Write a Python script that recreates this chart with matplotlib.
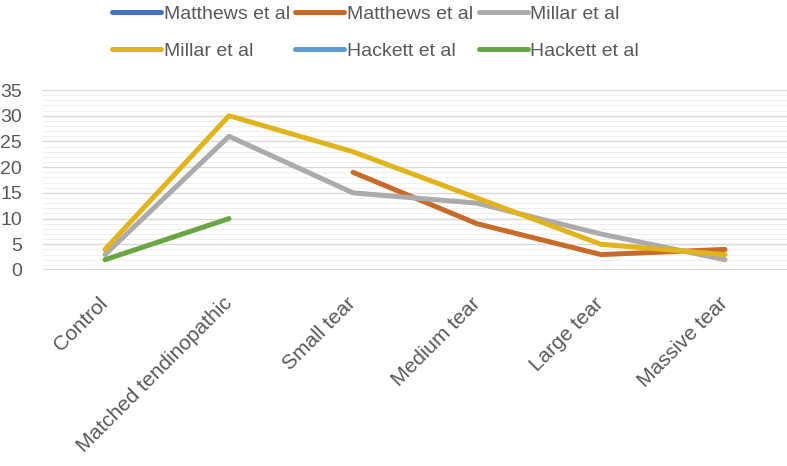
import numpy as np
import matplotlib
matplotlib.use("Agg")
import matplotlib.pyplot as plt
from matplotlib.ticker import MultipleLocator

plt.rcParams['font.family'] = ['Liberation Sans', 'DejaVu Sans']

categories = ["Control", "Matched tendinopathic", "Small tear", "Medium tear",
              "Large tear", "Massive tear"]
nan = np.nan
matthews_a = [nan, nan, nan, nan, nan, nan]
matthews_b = [nan, nan, 19, 9, 3, 4]
millar_a = [3, 26, 15, 13, 7, 2]
millar_b = [4, 30, 23, 14, 5, 3]
hackett_a = [nan, nan, nan, nan, nan, nan]
hackett_b = [2, 10, nan, nan, nan, nan]

series = [
    ("Matthews et al", matthews_a, "#4472C4"),
    ("Matthews et al", matthews_b, "#C96A28"),
    ("Millar et al", millar_a, "#ABABAB"),
    ("Millar et al", millar_b, "#E2B41C"),
    ("Hackett et al", hackett_a, "#5B9BD5"),
    ("Hackett et al", hackett_b, "#6BA644"),
]

fig = plt.figure(figsize=(7.87, 4.66), dpi=100)
ax = fig.add_axes([43 / 787, 1 - 270 / 466, 1 - 43 / 787, 180 / 466])

x = np.arange(len(categories))
handles = []
for label, vals, color in series:
    h, = ax.plot(x, vals, color=color, lw=3.6, solid_capstyle="round",
                 solid_joinstyle="round", label=label, zorder=3)
    handles.append(h)

ax.set_xlim(-0.5, len(categories) - 0.5)
ax.set_ylim(0, 35)
ax.yaxis.set_major_locator(MultipleLocator(5))
ax.yaxis.set_minor_locator(MultipleLocator(1))
ax.grid(axis="y", which="major", color="#D9D9D9", lw=1.0)
ax.grid(axis="y", which="minor", color="#F0F0F0", lw=0.8)
ax.set_axisbelow(True)
for s in ax.spines.values():
    s.set_visible(False)
ax.axhline(0, color="#D9D9D9", lw=1.5, zorder=1)

ax.set_xticks(x)
ax.set_xticklabels(categories, rotation=45, ha="right", va="center",
                   rotation_mode="anchor")
ax.tick_params(axis="x", length=0, pad=22, labelsize=15, labelcolor="#595959")
ax.tick_params(axis="y", which="both", length=0, pad=15, labelsize=14,
               labelcolor="#595959")

# matplotlib fills legend columns first, so reorder for row-wise layout
order = [0, 3, 1, 4, 2, 5]
fig.legend([handles[i] for i in order], [series[i][0] for i in order],
           ncol=3, loc="upper left", bbox_to_anchor=(112 / 787, 1 - 5 / 466),
           frameon=False, fontsize=14, labelcolor="#595959", handlelength=2.5,
           handletextpad=0.15, columnspacing=0.3, labelspacing=1.0,
           borderpad=0, borderaxespad=0)

fig.savefig("out.png", dpi=100)
